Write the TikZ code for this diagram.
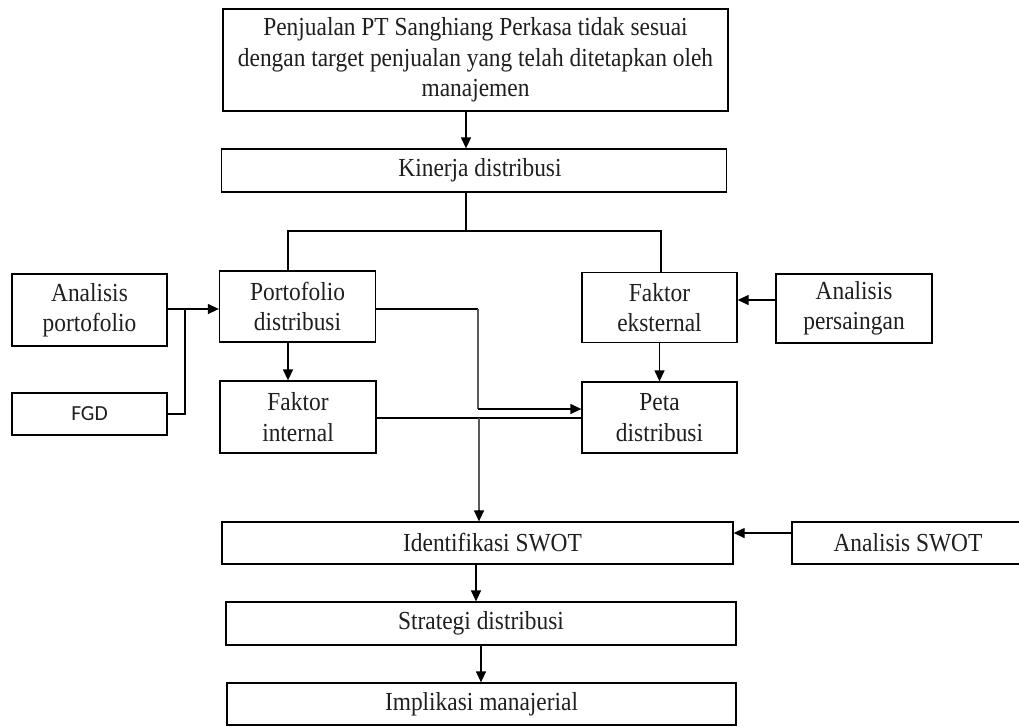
\documentclass[tikz,border=0pt]{standalone}
\usepackage{fontspec}
\setmainfont[FakeStretch=0.9]{Liberation Serif}
\newfontfamily\fgdfont{Carlito}
\usetikzlibrary{arrows.meta}
\begin{document}
\begin{tikzpicture}[x=1pt,y=-1pt,
  box/.style={draw=black, line width=1.3pt, rectangle, inner sep=0pt, align=center,
    font=\fontsize{26}{30.5}\selectfont, text=black!88},
  conn/.style={draw=black, line width=1.3pt},
  arr/.style={conn, -{Triangle[length=11pt,width=10pt]}},
  gconn/.style={draw=black!65, line width=1.3pt}]
\useasboundingbox (0,0) rectangle (1019,726);
\fill[white] (0,0) rectangle (1019,726);

% boxes
\node[box, minimum width=505pt, minimum height=102pt] (top) at (475.5,60)
  {Penjualan PT Sanghiang Perkasa tidak sesuai\\dengan target penjualan yang telah ditetapkan oleh\\manajemen};
\node[box, minimum width=505pt, minimum height=43pt] (kin) at (474,170.5) {\hspace*{12pt}Kinerja distribusi};
\node[box, minimum width=156pt, minimum height=71pt] (port) at (297.5,306.5) {Portofolio\\distribusi};
\node[box, minimum width=155pt, minimum height=70pt] (fext) at (659.5,307.5) {Faktor\\eksternal};
\node[box, minimum width=155pt, minimum height=72pt] (apf) at (89.5,310) {Analisis\\portofolio};
\node[box, minimum width=155pt, minimum height=42pt, font=\fgdfont\fontsize{21.5}{24}\selectfont] (fgd) at (89.5,414) {FGD};
\node[box, minimum width=156pt, minimum height=69pt] (apers) at (854,308.5) {Analisis\\persaingan};
\node[box, minimum width=156pt, minimum height=72pt] (fint) at (298,417) {Faktor\\internal};
\node[box, minimum width=155pt, minimum height=71pt] (peta) at (659.5,417.5) {Peta\\distribusi};
\node[box, minimum width=511pt, minimum height=42pt] (iswot) at (477.5,543) {\hspace*{30pt}Identifikasi SWOT};
\node[box, minimum width=232pt, minimum height=42pt] (aswot) at (908,543) {Analisis SWOT};
\node[box, minimum width=510pt, minimum height=43pt] (strat) at (481,623.5) {Strategi distribusi};
\node[box, minimum width=509pt, minimum height=42pt] (impl) at (481.5,704) {Implikasi manajerial};

% helper coordinates
\coordinate (c1) at (466,0);
\coordinate (j1) at (466,231);
\coordinate (jl) at (288,231);
\coordinate (jr) at (661,231);
\coordinate (yA) at (0,309);
\coordinate (b1) at (185,309);
\coordinate (yB) at (0,300);
\coordinate (k1) at (478,309);
\coordinate (k2) at (478,409);
\coordinate (yC) at (0,418);
\coordinate (k3) at (479,418);
\coordinate (k4) at (479,510);
\coordinate (yD) at (0,533);
\coordinate (c2) at (476,0);
\coordinate (c3) at (481,0);

% connectors
\draw[arr] (top.south -| c1) -- (kin.north -| c1);
\draw[conn] (kin.south -| j1) -- (j1);
\draw[conn] (port.north -| jl) -- (jl) -- (jr) -- (fext.north -| jr);
\draw[arr] (apf.east |- yA) -- (port.west |- yA);
\draw[conn] (fgd.east) -| (b1);
\draw[arr] (apers.west |- yB) -- (fext.east |- yB);
\draw[arr] (port.south -| jl) -- (fint.north -| jl);
\draw[arr] (fext.south) -- (peta.north);
\draw[conn] (port.east |- k1) -- (k1);
\draw[gconn] (k1) -- (k2);
\draw[arr] (k2) -- (peta.west |- k2);
\draw[conn] (fint.east |- yC) -- (peta.west |- yC);
\draw[gconn] (k3) -- (k4);
\draw[arr] (k4) -- (iswot.north -| k4);
\draw[arr] (aswot.west |- yD) -- (iswot.east |- yD);
\draw[arr] (iswot.south -| c2) -- (strat.north -| c2);
\draw[arr] (strat.south -| c3) -- (impl.north -| c3);
\end{tikzpicture}
\end{document}
